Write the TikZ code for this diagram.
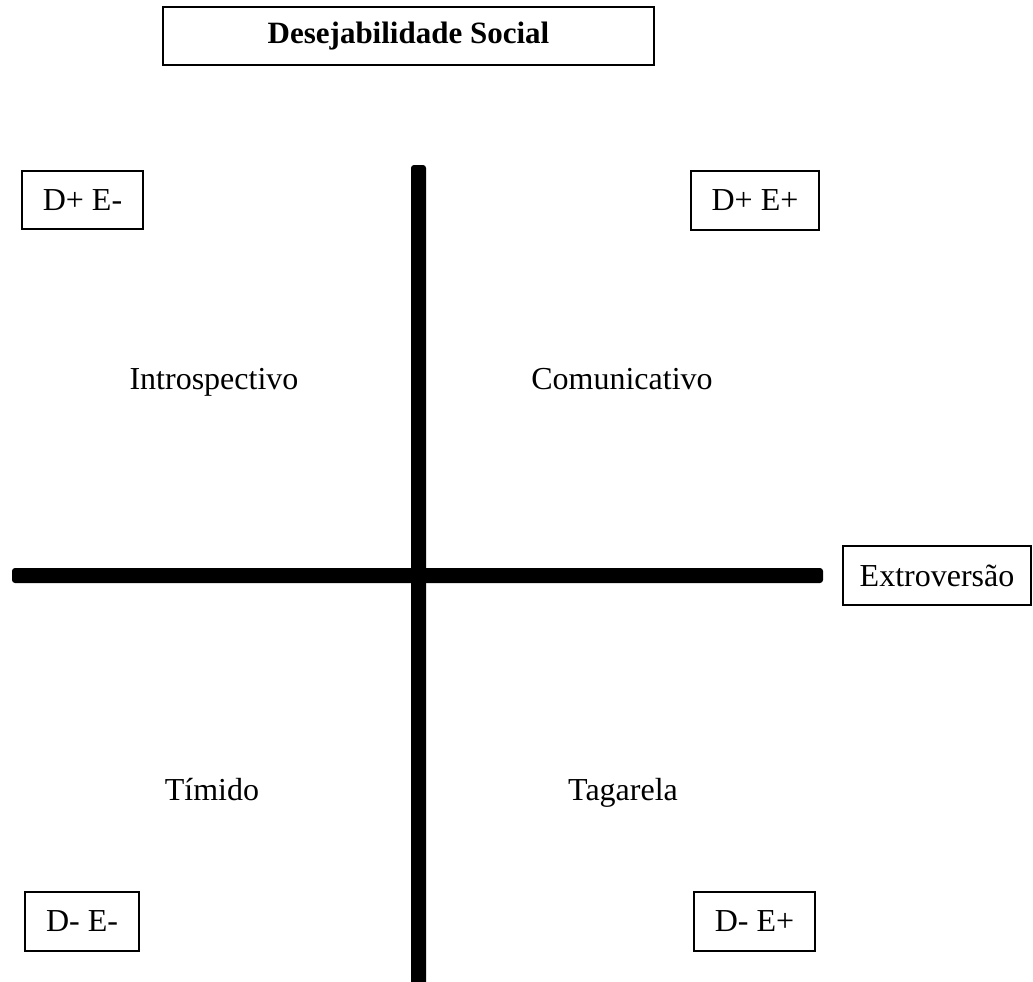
\documentclass[tikz,border=0pt]{standalone}
\usepackage{fontspec}
\setmainfont{Liberation Serif}
\begin{document}
\begin{tikzpicture}[x=1pt,y=-1pt,
  txt/.style={font=\fontsize{32}{36}\selectfont},
  box/.style={draw, line width=1.5pt, inner sep=0pt, txt},
  lbl/.style={txt, anchor=base, inner sep=0pt},
  axis/.style={fill=black, rounded corners=3pt}]
\useasboundingbox (0,0) rectangle (1033,982);
% axes
\begin{scope}
  \clip (0,0) rectangle (1033,982);
  \fill[axis] (411,165) rectangle (426,1000);
\end{scope}
\fill[axis] (12,568) rectangle (823,583);
% title
\node[box, minimum width=491pt, minimum height=58pt, font=\fontsize{31}{35}\selectfont\bfseries] (title) at (408.5,36) {Desejabilidade Social};
% corner boxes
\node[box, minimum width=121pt, minimum height=58pt] (dpem) at (82.5,200) {D+ E-};
\node[box, minimum width=128pt, minimum height=59pt] (dpep) at (755,200.5) {D+ E+};
\node[box, minimum width=114pt, minimum height=59pt] (dmem) at (82,921.5) {D- E-};
\node[box, minimum width=121pt, minimum height=59pt] (dmep) at (754.5,921.5) {D- E+};
\node[box, minimum width=188pt, minimum height=59pt] (extro) at (937,575.5) {Extroversão};
% quadrant labels
\node[lbl] (intro) at (214,389) {Introspectivo};
\node[lbl] (comun) at (622,389) {Comunicativo};
\node[lbl] (timido) at (212,800) {Tímido};
\node[lbl] (tagar) at (623,800) {Tagarela};
\end{tikzpicture}
\end{document}
